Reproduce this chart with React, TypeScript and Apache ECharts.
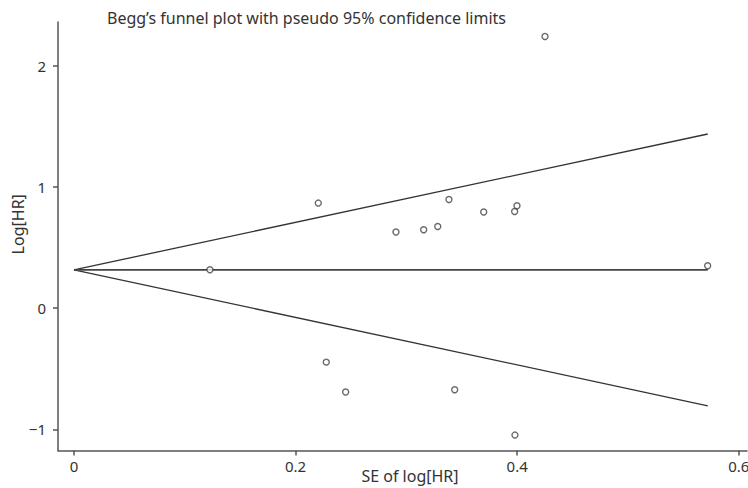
import React, { useEffect, useRef } from "react";
import * as echarts from "echarts";

// Study points: standard error of log[HR] and log[HR]
const seLogHR = [0.1227, 0.2205, 0.2277, 0.2452, 0.2906, 0.3156, 0.3283, 0.3384, 0.3436, 0.3698, 0.3977, 0.398, 0.3998, 0.4251, 0.5719];
const logHR = [0.316, 0.866, -0.446, -0.693, 0.627, 0.646, 0.673, 0.896, -0.674, 0.792, 0.797, -1.048, 0.844, 2.241, 0.349];

// Pooled estimate line and pseudo 95% limits (endpoints)
const limitSE = [0, 0.572];
const pooledY = [0.315, 0.315];
const upperY = [0.315, 1.436];
const lowerY = [0.315, -0.806];

const xTicks = [0, 0.2, 0.4, 0.6];
const yTicks = [-1, 0, 1, 2];

const FONT = "Noto Sans";

export default function App() {
  const ref = useRef<HTMLDivElement>(null);
  useEffect(() => {
    if (!ref.current) return;
    const chart = echarts.init(ref.current, null, { renderer: "svg" });
    const pts = seLogHR.map((s, i) => [s, logHR[i]]);
    const line = (ys: number[]) => limitSE.map((s, i) => [s, ys[i]]);
    chart.setOption({
      animation: false,
      backgroundColor: "#fff",
      title: {
        text: "Begg\u2019s funnel plot with pseudo 95% confidence limits",
        left: 102,
        top: 5,
        textStyle: { fontFamily: FONT, fontSize: 16, fontWeight: "normal", color: "#333" },
      },
      grid: { left: 58, top: 22, right: 1, bottom: 37.5, containLabel: false, outerBoundsMode: "none" },
      xAxis: {
        type: "value",
        min: -0.0144,
        max: 0.6074,
        name: "SE of log[HR]",
        nameLocation: "middle",
        nameGap: 17,
        nameMoveOverlap: false,
        nameTextStyle: { fontFamily: FONT, fontSize: 16, lineHeight: 17, color: "#333", padding: [0, 0, 0, 15] },
        axisLine: { show: true, onZero: false, lineStyle: { color: "#555", width: 1.5 } },
        axisTick: { show: true, length: 5, customValues: xTicks, lineStyle: { color: "#555", width: 1.5 } },
        axisLabel: {
          customValues: xTicks,
          margin: 8,
          fontFamily: FONT,
          fontSize: 15,
          color: "#333",
          formatter: (v: number) => String(v),
        },
        splitLine: { show: false },
      },
      yAxis: {
        type: "value",
        min: -1.175,
        max: 2.36,
        name: "Log[HR]",
        nameLocation: "middle",
        nameGap: 32,
        nameRotate: 90,
        nameMoveOverlap: false,
        nameTextStyle: { fontFamily: FONT, fontSize: 16, color: "#333", padding: [0, 0, 0, 24] },
        axisLine: { show: true, onZero: false, lineStyle: { color: "#555", width: 1.5 } },
        axisTick: { show: true, length: 5, customValues: yTicks, lineStyle: { color: "#555", width: 1.5 } },
        axisLabel: {
          customValues: yTicks,
          margin: 12,
          fontFamily: FONT,
          fontSize: 15,
          color: "#333",
          formatter: (v: number) => String(v).replace("-", "\u2212"),
        },
        splitLine: { show: false },
      },
      series: [
        {
          type: "line",
          data: line(upperY),
          symbol: "none",
          lineStyle: { color: "#333", width: 1.3 },
          z: 2,
        },
        {
          type: "line",
          data: line(lowerY),
          symbol: "none",
          lineStyle: { color: "#333", width: 1.3 },
          z: 2,
        },
        {
          type: "line",
          data: line(pooledY),
          symbol: "none",
          lineStyle: { color: "#444", width: 1.6 },
          z: 2,
        },
        {
          type: "scatter",
          data: pts,
          symbol: "circle",
          symbolSize: 6,
          itemStyle: { color: "#fff", borderColor: "#444", borderWidth: 1.4 },
          z: 3,
        },
      ],
    });
    return () => chart.dispose();
  }, []);
  return <div ref={ref} style={{ width: 748, height: 488, position: "absolute", left: 0, top: 0 }} />;
}
